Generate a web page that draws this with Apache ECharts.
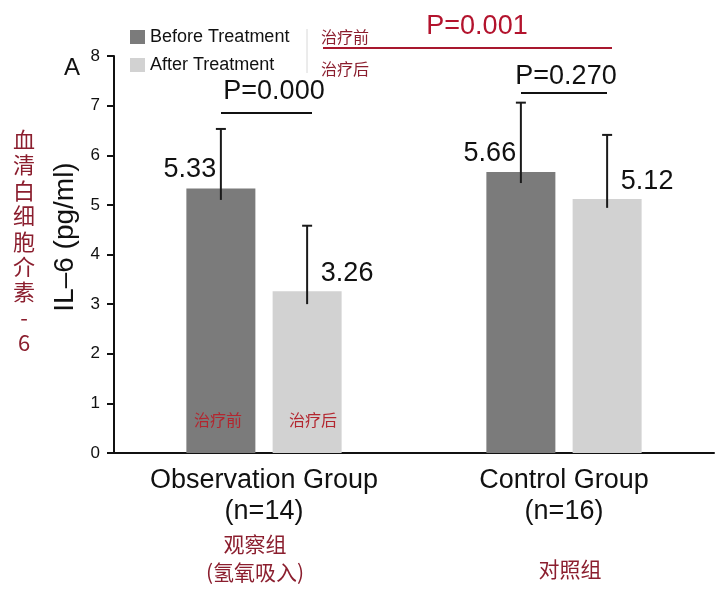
<!DOCTYPE html>
<html>
<head>
<meta charset="utf-8">
<script src="https://cdn.jsdelivr.net/npm/echarts@6/dist/echarts.min.js"></script>
<style>
html,body{margin:0;padding:0;background:#fff;}
#main{width:720px;height:601px;}
</style>
</head>
<body>
<div id="main"></div>
<script>
// data
var categories = ['Observation Group\n(n=14)', 'Control Group\n(n=16)'];
var seriesNames = ['Before Treatment', 'After Treatment'];
var beforeValues = [5.33, 5.66];
var afterValues = [3.26, 5.12];
var beforeErrHigh = [6.53, 7.06];
var beforeErrLow = [5.10, 5.44];
var afterErrHigh = [4.58, 6.41];
var afterErrLow = [3.00, 4.94];
var yMin = 0, yMax = 8, yStep = 1;

var FONT = '"Liberation Sans", Arial, sans-serif';
var CJK = '"Noto Sans CJK SC", sans-serif';
var DARK = '#7b7b7b', LIGHT = '#d2d2d2';
var MAROON = '#8b1e2e', RED = '#b3132d';
var BAR_W = 69, GAP = 0.25;
var shift = (BAR_W + BAR_W * GAP) / 2;

function errData(hi, lo) {
	return hi.map(function (h, i) { return [i, h, lo[i]]; });
}

// error bar: line from low to high, cap on top only
function errorBar(dx) {
	return function (params, api) {
		var i = api.value(0);
		var top = api.coord([i, api.value(1)]);
		var bot = api.coord([i, api.value(2)]);
		var x = top[0] + dx;
		return {
			type: 'group',
			children: [
				{type: 'line', shape: {x1: x, y1: top[1], x2: x, y2: bot[1]}, style: {stroke: '#1a1a1a', lineWidth: 2}},
				{type: 'line', shape: {x1: x - 5, y1: top[1], x2: x + 5, y2: top[1]}, style: {stroke: '#1a1a1a', lineWidth: 2}}
			]
		};
	};
}

function txt(x, y, s, size, color, font, extra) {
	var o = {
		type: 'text', x: x, y: y, z: 10,
		style: {text: s, font: size + 'px ' + font, fill: color, align: 'center', verticalAlign: 'middle'}
	};
	if (extra) { for (var k in extra) o[k] = extra[k]; }
	return o;
}
function line(x1, y1, x2, y2, color, w) {
	return {type: 'line', z: 10, shape: {x1: x1, y1: y1, x2: x2, y2: y2}, style: {stroke: color, lineWidth: w}};
}

var chart = echarts.init(document.getElementById('main'));
chart.setOption({
	animation: false,
	backgroundColor: '#fff',
	grid: {left: 114, right: 6, top: 56, bottom: 148},
	legend: {
		data: seriesNames,
		orient: 'vertical',
		left: 130, top: 28, padding: 0,
		itemWidth: 15, itemHeight: 14, itemGap: 10,
		icon: 'rect',
		textStyle: {fontSize: 18, lineHeight: 18, color: '#111', fontFamily: FONT}
	},
	xAxis: {
		type: 'category',
		data: categories,
		axisLine: {lineStyle: {color: '#111', width: 2}},
		axisTick: {show: false},
		axisLabel: {fontSize: 27, lineHeight: 31, color: '#111', fontFamily: FONT, margin: 12}
	},
	yAxis: {
		type: 'value',
		min: yMin, max: yMax, interval: yStep,
		axisLine: {show: true, lineStyle: {color: '#111', width: 2}},
		axisTick: {show: true, length: 7, lineStyle: {color: '#111', width: 2}},
		axisLabel: {fontSize: 17, color: '#111', fontFamily: FONT, margin: 14},
		splitLine: {show: false}
	},
	series: [
		{
			name: seriesNames[0], type: 'bar', data: beforeValues,
			barWidth: BAR_W, barGap: (GAP * 100) + '%',
			itemStyle: {color: DARK},
			label: {show: true, position: 'top', distance: 5, offset: [-31, 0],
				fontSize: 27, color: '#111', fontFamily: FONT}
		},
		{
			name: seriesNames[1], type: 'bar', data: afterValues,
			barWidth: BAR_W,
			itemStyle: {color: LIGHT},
			label: {show: true, position: 'top', distance: 4, offset: [40, 0],
				fontSize: 27, color: '#111', fontFamily: FONT}
		},
		{
			name: 'errBefore', type: 'custom', z: 5,
			renderItem: errorBar(-shift),
			encode: {x: 0, y: [1, 2]},
			data: errData(beforeErrHigh, beforeErrLow)
		},
		{
			name: 'errAfter', type: 'custom', z: 5,
			renderItem: errorBar(shift),
			encode: {x: 0, y: [1, 2]},
			data: errData(afterErrHigh, afterErrLow)
		}
	],
	graphic: [
		txt(72, 68, 'A', 24, '#111', FONT),
		txt(65, 237, 'IL–6 (pg/ml)', 28, '#111', FONT, {rotation: Math.PI / 2}),
		{
			type: 'text', x: 24, y: 127, z: 10,
			style: {text: '血\n清\n白\n细\n胞\n介\n素\n-\n6', font: '22px ' + CJK, fill: MAROON,
				align: 'center', verticalAlign: 'top', lineHeight: 25.4}
		},
		line(307, 29, 307, 73, '#d8d8d8', 1),
		txt(345, 37, '治疗前', 16, MAROON, CJK),
		txt(345, 69, '治疗后', 16, MAROON, CJK),
		line(323, 48, 612, 48, '#a8182e', 2),
		txt(477, 27, 'P=0.001', 27, RED, FONT),
		line(221, 113, 312, 113, '#111', 2),
		txt(274, 92, 'P=0.000', 27, '#111', FONT),
		line(521, 93, 607, 93, '#111', 2),
		txt(566, 77, 'P=0.270', 27, '#111', FONT),
		txt(218, 420, '治疗前', 16, '#b3262f', CJK),
		txt(313, 420, '治疗后', 16, '#b3262f', CJK),
		txt(255, 544, '观察组', 21, MAROON, CJK),
		txt(255, 572, '(氢氧吸入)', 21, MAROON, CJK),
		txt(570, 569, '对照组', 21, MAROON, CJK)
	]
});
</script>
</body>
</html>
